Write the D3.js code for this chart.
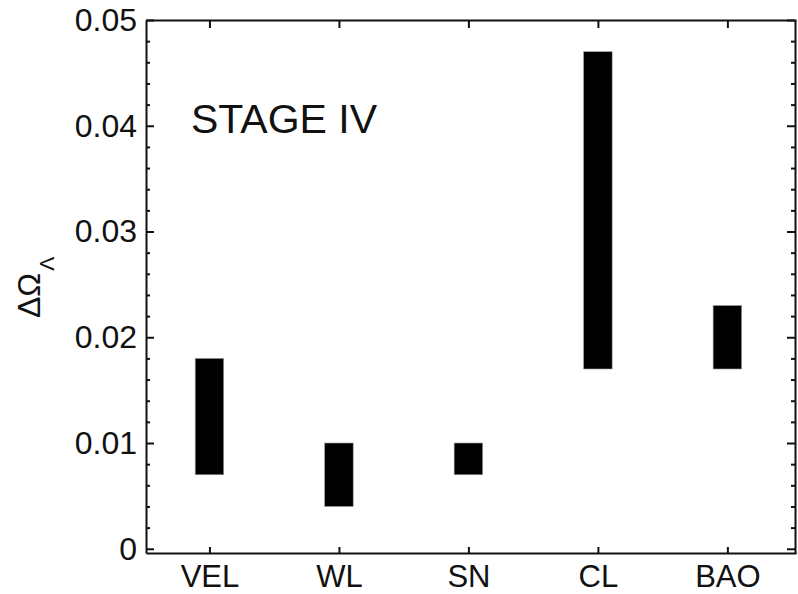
<!DOCTYPE html>
<html>
<head>
<meta charset="utf-8">
<script src="https://cdn.jsdelivr.net/npm/d3@7"></script>
<style>
  body { margin: 0; background: #fff; }
  text { font-family: "Liberation Sans", Arial, sans-serif; fill: #111; }
  .axis path, .axis line { stroke: #111; stroke-width: 2; }
</style>
</head>
<body>
<div id="chart"></div>
<script>
  // probe names and the range of Delta Omega_Lambda for each one
  const probes = ["VEL", "WL", "SN", "CL", "BAO"];
  const lowVals = [0.007, 0.004, 0.007, 0.017, 0.017];
  const highVals = [0.018, 0.010, 0.010, 0.047, 0.023];
  const yTicks = [0, 0.01, 0.02, 0.03, 0.04, 0.05];
  const yTickLabels = ["0", "0.01", "0.02", "0.03", "0.04", "0.05"];

  const width = 798, height = 594;
  const margin = { top: 20, right: 2, bottom: 41, left: 146 };

  const svg = d3.select("#chart")
    .append("svg")
    .attr("width", width)
    .attr("height", height);

  // x is the probe index (1..5)
  const x = d3.scaleLinear()
    .domain([0.51, 5.53])
    .range([margin.left, width - margin.right]);

  const y = d3.scaleLinear()
    .domain([-0.0004, 0.05])
    .range([height - margin.bottom, margin.top]);

  const barW = x(1.22) - x(1);

  // bars
  svg.append("g")
    .selectAll("rect")
    .data(probes)
    .join("rect")
    .attr("x", (d, i) => x(i + 1) - barW / 2)
    .attr("y", (d, i) => y(highVals[i]))
    .attr("width", barW)
    .attr("height", (d, i) => y(lowVals[i]) - y(highVals[i]))
    .attr("fill", "#000")
    .attr("stroke", "#999")
    .attr("stroke-width", 0.6);

  const minorTicks = d3.range(0, 51, 2)
    .filter((v) => v % 10 !== 0)
    .map((v) => v / 1000);
  const catTicks = probes.map((d, i) => i + 1);

  // left axis, ticks inside the frame
  svg.append("g")
    .attr("class", "axis")
    .attr("transform", `translate(${margin.left},0)`)
    .call(d3.axisLeft(y)
      .tickValues(yTicks)
      .tickFormat((d, i) => yTickLabels[i])
      .tickSizeInner(-8)
      .tickSizeOuter(0)
      .tickPadding(9))
    .call((g) => g.selectAll("text").style("font-size", "32px"));

  svg.append("g")
    .attr("class", "axis")
    .attr("transform", `translate(${margin.left},0)`)
    .call(d3.axisLeft(y).tickValues(minorTicks).tickFormat("").tickSizeInner(-4).tickSizeOuter(0))
    .call((g) => g.select(".domain").remove());

  // right axis (mirror)
  const xr = width - margin.right - 1;
  svg.append("g")
    .attr("class", "axis")
    .attr("transform", `translate(${xr},0)`)
    .call(d3.axisRight(y).tickValues(yTicks).tickFormat("").tickSizeInner(-8).tickSizeOuter(0));

  svg.append("g")
    .attr("class", "axis")
    .attr("transform", `translate(${xr},0)`)
    .call(d3.axisRight(y).tickValues(minorTicks).tickFormat("").tickSizeInner(-4).tickSizeOuter(0))
    .call((g) => g.select(".domain").remove());

  // bottom axis with probe names
  svg.append("g")
    .attr("class", "axis")
    .attr("transform", `translate(0,${height - margin.bottom})`)
    .call(d3.axisBottom(x)
      .tickValues(catTicks)
      .tickFormat((d) => probes[d - 1])
      .tickSizeInner(-6)
      .tickSizeOuter(0)
      .tickPadding(12))
    .call((g) => g.selectAll("text").style("font-size", "31px"));

  // top axis (mirror)
  svg.append("g")
    .attr("class", "axis")
    .attr("transform", `translate(0,${margin.top})`)
    .call(d3.axisTop(x).tickValues(catTicks).tickFormat("").tickSizeInner(-8).tickSizeOuter(0));

  // panel label
  svg.append("text")
    .attr("x", 191)
    .attr("y", 133)
    .style("font-size", "41px")
    .text("STAGE IV");

  // y axis title: Delta Omega_Lambda
  const yTitle = svg.append("text")
    .attr("transform", "translate(40,318) rotate(-90)")
    .style("font-size", "32px");
  yTitle.append("tspan").text("\u0394\u03A9");
  yTitle.append("tspan")
    .attr("dy", 14)
    .attr("dx", 2)
    .style("font-size", "21px")
    .text("\u039B");
</script>
</body>
</html>
